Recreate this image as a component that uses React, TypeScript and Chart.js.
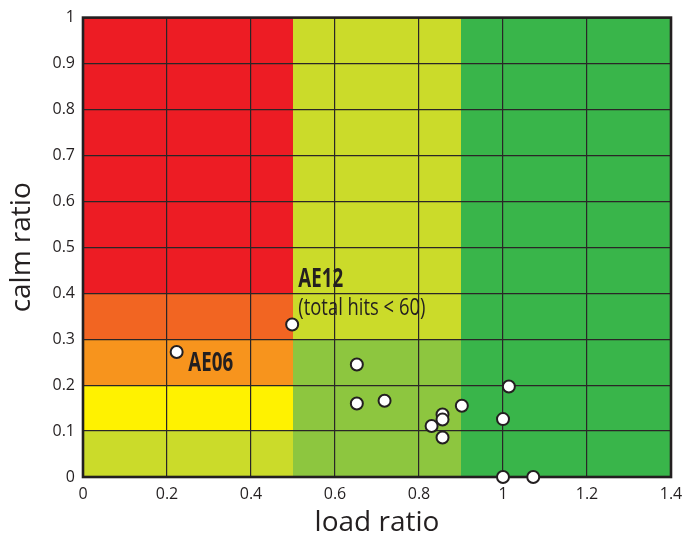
import React, { useEffect, useRef } from "react";
import { Chart, registerables } from "chart.js";

Chart.register(...registerables);

// ---- data ----
const loadRatio = [0.223, 0.498, 0.652, 0.652, 0.718, 0.856, 0.856, 0.83, 0.856, 0.902, 1.014, 1.0, 1.0, 1.072];
const calmRatio = [0.272, 0.332, 0.245, 0.16, 0.166, 0.136, 0.125, 0.111, 0.086, 0.155, 0.197, 0.126, 0.0, 0.0];

const xTicks = [0, 0.2, 0.4, 0.6, 0.8, 1.0, 1.2, 1.4];
const yTicks = [0, 0.1, 0.2, 0.3, 0.4, 0.5, 0.6, 0.7, 0.8, 0.9, 1.0];
const xTickLabels = ["0", "0.2", "0.4", "0.6", "0.8", "1", "1.2", "1.4"];
const yTickLabels = ["0", "0.1", "0.2", "0.3", "0.4", "0.5", "0.6", "0.7", "0.8", "0.9", "1"];

// risk zones (load ratio range x calm ratio range)
const zoneX0 = [0, 0, 0, 0, 0, 0.5, 0.5, 0.9];
const zoneX1 = [0.5, 0.5, 0.5, 0.5, 0.5, 0.9, 0.9, 1.4];
const zoneY0 = [0, 0.1, 0.2, 0.3, 0.4, 0, 0.3, 0];
const zoneY1 = [0.1, 0.2, 0.3, 0.4, 1.0, 0.3, 1.0, 1.0];
const zoneColors = ["#CBDB2A", "#FFF200", "#F7941D", "#F26522", "#ED1C24", "#8DC63F", "#CBDB2A", "#39B54A"];

// annotations (anchored in data coordinates)
const noteText = ["AE12", "(total hits < 60)", "AE06"];
const noteX = [0.5126, 0.5126, 0.2507];
const noteY = [0.413, 0.3536, 0.231];
const noteBold = [true, false, true];

const INK = "#231F20";

const zonesPlugin = {
  id: "zones",
  beforeDraw(chart: any) {
    const { ctx, scales } = chart;
    const xs = scales.x;
    const ys = scales.y;
    ctx.save();
    for (let i = 0; i < zoneX0.length; i++) {
      const x0 = xs.getPixelForValue(zoneX0[i]);
      const x1 = xs.getPixelForValue(zoneX1[i]);
      const y0 = ys.getPixelForValue(zoneY0[i]);
      const y1 = ys.getPixelForValue(zoneY1[i]);
      ctx.fillStyle = zoneColors[i];
      ctx.fillRect(x0, y1, x1 - x0, y0 - y1);
    }
    ctx.restore();
  },
  beforeDatasetsDraw(chart: any) {
    const { ctx, chartArea } = chart;
    ctx.save();
    ctx.strokeStyle = INK;
    ctx.lineWidth = 2.6;
    ctx.strokeRect(chartArea.left, chartArea.top, chartArea.right - chartArea.left, chartArea.bottom - chartArea.top);
    ctx.restore();
  },
  afterDatasetsDraw(chart: any) {
    const { ctx, scales } = chart;
    ctx.save();
    ctx.fillStyle = INK;
    ctx.textBaseline = "alphabetic";
    ctx.textAlign = "left";
    for (let i = 0; i < noteText.length; i++) {
      const px = scales.x.getPixelForValue(noteX[i]);
      const py = scales.y.getPixelForValue(noteY[i]);
      ctx.save();
      ctx.translate(px, py);
      if (noteBold[i]) {
        ctx.font = 'bold 26px "Open Sans", sans-serif';
        ctx.scale(0.72, 1);
      } else {
        ctx.font = '23px "Open Sans", sans-serif';
        ctx.scale(0.8, 1);
      }
      ctx.fillText(noteText[i], 0, 0);
      ctx.restore();
    }
    ctx.restore();
  },
};

export default function App() {
  const ref = useRef<HTMLCanvasElement>(null);

  useEffect(() => {
    document.body.style.margin = "0";
    const canvas = ref.current;
    if (!canvas) return;
    const points = loadRatio.map((x, i) => ({ x, y: calmRatio[i] }));
    const chart = new Chart(canvas, {
      type: "scatter",
      data: {
        datasets: [
          {
            data: points,
            pointRadius: 6,
            pointHoverRadius: 6,
            backgroundColor: "#FFFFFF",
            borderColor: INK,
            borderWidth: 2,
            clip: false as any,
          },
        ],
      },
      options: {
        animation: false,
        responsive: false,
        devicePixelRatio: 1,
        layout: { padding: { top: 14, right: 26, left: 0, bottom: 0 } },
        plugins: {
          legend: { display: false },
          tooltip: { enabled: false },
        },
        scales: {
          x: {
            type: "linear",
            min: 0,
            max: 1.4,
            afterBuildTicks: (scale: any) => {
              scale.ticks = xTicks.map((v) => ({ value: v }));
            },
            afterFit: (scale: any) => {
              scale.height = 61;
            },
            grid: { color: "#2a2627", lineWidth: 1.2, drawTicks: false },
            border: { display: false },
            ticks: {
              padding: 8,
              color: INK,
              font: { family: '"Open Sans", sans-serif', size: 16 },
              maxRotation: 0,
              callback: (_v: any, i: number) => xTickLabels[i],
            },
            title: {
              display: true,
              text: "load ratio",
              color: INK,
              font: { family: '"Open Sans", sans-serif', size: 28, lineHeight: 1 },
              padding: { top: 0, bottom: 1 },
            },
          },
          y: {
            type: "linear",
            min: 0,
            max: 1,
            afterBuildTicks: (scale: any) => {
              scale.ticks = yTicks.map((v) => ({ value: v }));
            },
            afterFit: (scale: any) => {
              scale.width = 83;
            },
            grid: { color: "#2a2627", lineWidth: 1.2, drawTicks: false },
            border: { display: false },
            ticks: {
              padding: 8,
              color: INK,
              font: { family: '"Open Sans", sans-serif', size: 16 },
              callback: (_v: any, i: number) => yTickLabels[i],
            },
            title: {
              display: true,
              text: "calm ratio",
              color: INK,
              font: { family: '"Open Sans", sans-serif', size: 28, lineHeight: 1 },
              padding: { top: 8, bottom: 0 },
            },
          },
        },
      },
      plugins: [zonesPlugin],
    });
    return () => chart.destroy();
  }, []);

  return (
    <div style={{ width: 697, height: 538 }}>
      <canvas ref={ref} width={697} height={538} style={{ width: 697, height: 538, display: "block" }} />
    </div>
  );
}
